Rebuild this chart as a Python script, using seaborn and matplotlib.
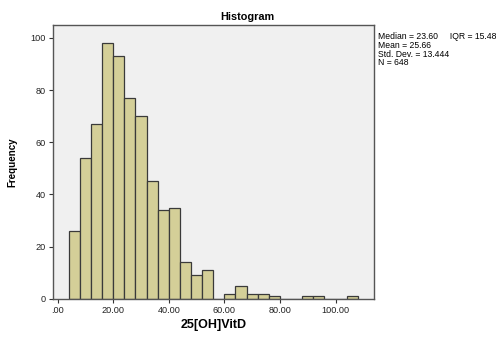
import numpy as np
import matplotlib
matplotlib.use("Agg")
import matplotlib.pyplot as plt
import seaborn as sns

# bin left edges (width 4) and frequencies
bin_left = [4, 8, 12, 16, 20, 24, 28, 32, 36, 40, 44, 48, 52, 56, 60, 64, 68,
            72, 76, 80, 84, 88, 92, 96, 100, 104]
counts = [26, 54, 67, 98, 93, 77, 70, 45, 34, 35, 14, 9, 11, 0, 2, 5, 2,
          2, 1, 0, 0, 1, 1, 0, 0, 1]
bin_width = 4
x_ticks = [0, 20, 40, 60, 80, 100]
x_tick_labels = [".00", "20.00", "40.00", "60.00", "80.00", "100.00"]
y_ticks = [0, 20, 40, 60, 80, 100]
stats_lines = ["Median = 23.60     IQR = 15.48", "Mean = 25.66",
               "Std. Dev. = 13.444", "N = 648"]

sns.set_style("ticks")
plt.rcParams['font.family'] = ['Liberation Sans', 'DejaVu Sans']

centers = np.array(bin_left) + bin_width / 2
edges = list(bin_left) + [bin_left[-1] + bin_width]

fig = plt.figure(figsize=(5, 3.4), dpi=100)
ax = fig.add_axes([0.105, 0.121, 0.643, 0.806])
ax.set_facecolor("#f0f0f0")

sns.histplot(x=centers, weights=counts, bins=edges, ax=ax,
             color="#d4cf98", edgecolor="#3a3a3a", linewidth=0.9, alpha=1)

ax.set_xlim(-1.8, 113.8)
ax.set_ylim(0, 105)
ax.set_xticks(x_ticks)
ax.set_xticklabels(x_tick_labels)
ax.set_yticks(y_ticks)
ax.tick_params(labelsize=6.6, length=3, width=0.8, color="#333333",
               labelcolor="#222222", pad=2)
for s in ax.spines.values():
    s.set_color("#555555")
    s.set_linewidth(1.0)

ax.set_xlabel("25[OH]VitD", fontsize=9, fontweight="bold", labelpad=3,
              color="black")
ax.set_ylabel("Frequency", fontsize=7, fontweight="bold", labelpad=9,
              color="black")
fig.text(0.494, 0.95, "Histogram", ha="center", va="center",
         fontsize=7.8, fontweight="bold", color="black")

fig.text(0.756, 0.905, "\n".join(stats_lines), ha="left", va="top",
         fontsize=6.2, linespacing=0.95, color="black")

fig.savefig("out.png", dpi=100, facecolor="white")
